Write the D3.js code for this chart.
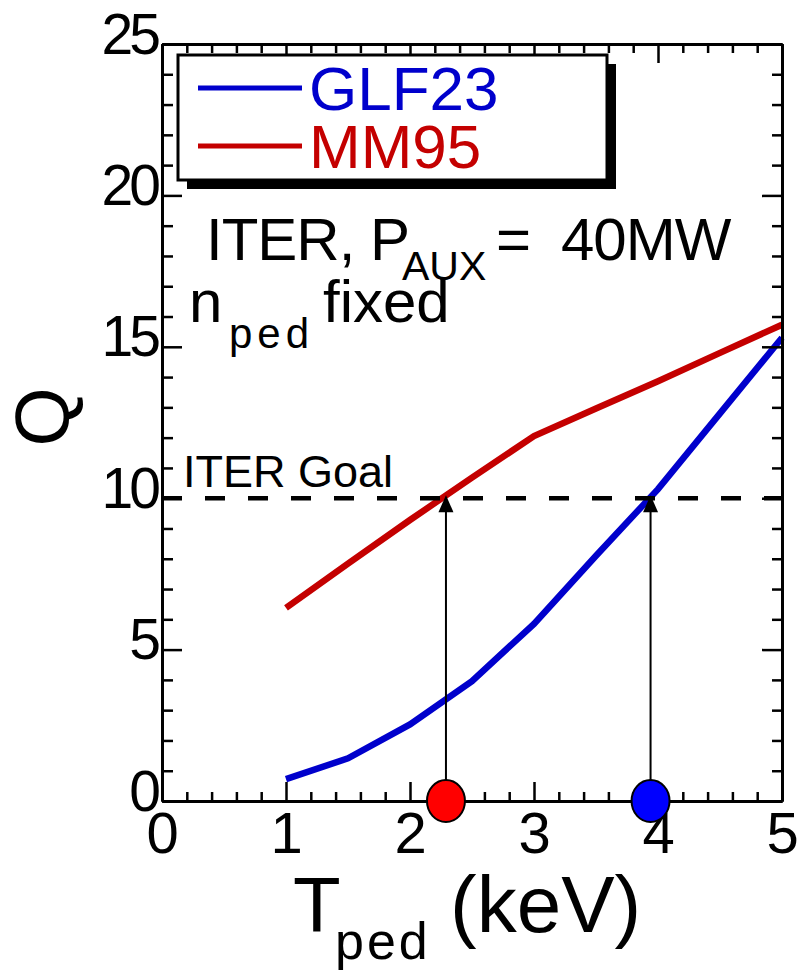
<html>
<head>
    <style>
        body { margin: 0; background: #fff; }
        svg text { font-family: "Liberation Sans", Arial, Helvetica, sans-serif; fill: #000; }
    </style>
</head>
<body>
<svg id="container" width="800" height="971"></svg>
<script src="https://cdn.jsdelivr.net/npm/d3@7"></script>
<script>
    // values
    let tped = [1, 1.5, 2, 2.5, 3, 3.5, 4, 4.5, 5]
    let qGLF23 = [0.72, 1.41, 2.53, 3.96, 5.85, 8.1, 10.3, 12.8, 15.3]
    let qMM95 = [6.38, 7.84, 9.28, 10.68, 12.05, 12.96, 13.86, 14.8, 15.73]
    let goalQ = 10
    let goalT = [2.29, 3.94]
    let goalColors = ["#ff0000", "#0000ff"]
    let xTicks = [0, 1, 2, 3, 4, 5]
    let yTicks = [0, 5, 10, 15, 20, 25]
    let seriesNames = ["GLF23", "MM95"]
    let seriesColors = ["#0000cc", "#c40000"]

    let svg = d3.select("#container")
    let plotLeft = 162, plotRight = 782, plotTop = 44, plotBottom = 801

    let xScale = d3.scaleLinear().domain([0, 5]).range([plotLeft, plotRight])
    let yScale = d3.scaleLinear().domain([0, 25]).range([plotBottom, plotTop])

    let xMinor = d3.range(0, 5.001, 0.2).filter(v => Math.abs(v - Math.round(v)) > 0.01)
    let yMinor = d3.range(0, 25.001, 1).filter(v => v % 5 != 0)

    let line = d3.line()
        .x(d => xScale(d[0]))
        .y(d => yScale(d[1]))

    // curves
    let series = [qGLF23, qMM95]
    series.forEach((s, i) => {
        svg.append("path")
            .datum(tped.map((t, j) => [t, s[j]]))
            .attr("d", line)
            .attr("fill", "none")
            .attr("stroke", seriesColors[i])
            .attr("stroke-width", 6.5)
            .attr("stroke-linejoin", "miter")
    })

    // ITER goal dashed line
    svg.append("line")
        .attr("x1", xScale(0)).attr("x2", xScale(5))
        .attr("y1", yScale(goalQ)).attr("y2", yScale(goalQ))
        .attr("stroke", "black")
        .attr("stroke-width", 4.5)
        .attr("stroke-dasharray", "20,23")

    svg.append("text")
        .attr("x", 183).attr("y", 487)
        .attr("font-size", 45)
        .text("ITER Goal")

    // arrows up to the goal
    svg.selectAll("line.arrow")
        .data(goalT)
        .enter()
        .append("line")
            .attr("class", "arrow")
            .attr("x1", d => xScale(d)).attr("x2", d => xScale(d))
            .attr("y1", yScale(0)).attr("y2", yScale(goalQ) + 12)
            .attr("stroke", "black")
            .attr("stroke-width", 2)

    svg.selectAll("path.head")
        .data(goalT)
        .enter()
        .append("path")
            .attr("class", "head")
            .attr("d", d => {
                let x = xScale(d), y = yScale(goalQ) - 3
                return "M" + x + "," + y + "L" + (x - 7.5) + "," + (y + 17) + "L" + (x + 7.5) + "," + (y + 17) + "Z"
            })
            .attr("fill", "black")

    // axes: major and minor ticks on all four sides, pointing inward
    function tickAxis(axis, vals, size, pos) {
        let g = svg.append("g")
            .attr("transform", pos)
            .call(axis.tickValues(vals).tickSizeInner(-size).tickSizeOuter(0).tickFormat(""))
        g.selectAll("line").attr("stroke-width", 2.5)
        g.select(".domain").attr("stroke-width", 3)
        return g
    }
    tickAxis(d3.axisBottom(xScale), xMinor, 9, "translate(0," + plotBottom + ")")
    tickAxis(d3.axisTop(xScale), xMinor, 9, "translate(0," + plotTop + ")")
    tickAxis(d3.axisLeft(yScale), yMinor, 11, "translate(" + plotLeft + ",0)")
    tickAxis(d3.axisRight(yScale), yMinor, 10, "translate(" + plotRight + ",0)")
    tickAxis(d3.axisTop(xScale), xTicks, 19, "translate(0," + plotTop + ")")
    tickAxis(d3.axisRight(yScale), yTicks, 20, "translate(" + plotRight + ",0)")

    let xAxis = svg.append("g")
        .attr("transform", "translate(0," + plotBottom + ")")
        .call(d3.axisBottom(xScale).tickValues(xTicks).tickFormat(d3.format("d"))
            .tickSizeInner(-19).tickSizeOuter(0).tickPadding(11))
    xAxis.selectAll("line").attr("stroke-width", 2.5)
    xAxis.select(".domain").attr("stroke-width", 3)
    xAxis.selectAll("text")
        .attr("font-size", 58)
        .attr("font-family", "Liberation Sans, Arial, sans-serif")
        .attr("fill", "black")

    let yAxis = svg.append("g")
        .attr("transform", "translate(" + plotLeft + ",0)")
        .call(d3.axisLeft(yScale).tickValues(yTicks).tickFormat(d3.format("d"))
            .tickSizeInner(-20).tickSizeOuter(0).tickPadding(5))
    yAxis.selectAll("line").attr("stroke-width", 2.5)
    yAxis.select(".domain").attr("stroke-width", 3)
    yAxis.selectAll("text")
        .attr("font-size", 57)
        .attr("dy", "0.16em")
        .attr("letter-spacing", -4)
        .attr("font-family", "Liberation Sans, Arial, sans-serif")
        .attr("fill", "black")

    // goal markers on the T axis
    svg.selectAll("ellipse")
        .data(goalT)
        .enter()
        .append("ellipse")
            .attr("cx", d => xScale(d))
            .attr("cy", yScale(0))
            .attr("rx", 19)
            .attr("ry", 21)
            .attr("fill", (d, i) => goalColors[i])
            .attr("stroke", "black")
            .attr("stroke-width", 2)

    // legend with drop shadow
    let legend = svg.append("g")
    legend.append("rect")
        .attr("x", 187).attr("y", 64).attr("width", 429).attr("height", 125)
        .attr("fill", "black")
    legend.append("rect")
        .attr("x", 178).attr("y", 55).attr("width", 429).attr("height", 125)
        .attr("fill", "white").attr("stroke", "black").attr("stroke-width", 3)
    seriesNames.forEach((name, i) => {
        let y = 88 + i * 58
        legend.append("line")
            .attr("x1", 198).attr("x2", 302).attr("y1", y).attr("y2", y)
            .attr("stroke", seriesColors[i]).attr("stroke-width", 5)
        legend.append("text")
            .attr("x", 309).attr("y", y + 22)
            .attr("font-size", 62)
            .style("fill", seriesColors[i])
            .text(name)
    })

    // annotation
    let ann = svg.append("text").attr("y", 260).attr("font-size", 60).attr("letter-spacing", -1)
    ann.append("tspan").attr("x", 206).text("ITER, P")
    ann.append("tspan").attr("x", 402).attr("y", 280).attr("font-size", 41).attr("letter-spacing", 0).text("AUX")
    ann.append("tspan").attr("x", 496).attr("y", 260).text("=")
    ann.append("tspan").attr("x", 561).text("40MW")

    let ann2 = svg.append("text").attr("y", 322).attr("font-size", 60)
    ann2.append("tspan").attr("x", 189).text("n")
    ann2.append("tspan").attr("x", 229).attr("y", 348).attr("font-size", 42).attr("letter-spacing", 5).text("ped")
    ann2.append("tspan").attr("x", 323).attr("y", 322).text("fixed")

    // axis titles
    let xt = svg.append("text").attr("y", 932).attr("font-size", 78)
    xt.append("tspan").attr("x", 293).text("T")
    xt.append("tspan").attr("x", 335).attr("y", 959).attr("font-size", 52).attr("letter-spacing", 3).text("ped")
    xt.append("tspan").attr("x", 450).attr("y", 932).attr("font-size", 80).text("(keV)")

    svg.append("text")
        .attr("transform", "translate(68,417) rotate(-90)")
        .attr("text-anchor", "middle")
        .attr("font-size", 76)
        .text("Q")
</script>
</body>
</html>
